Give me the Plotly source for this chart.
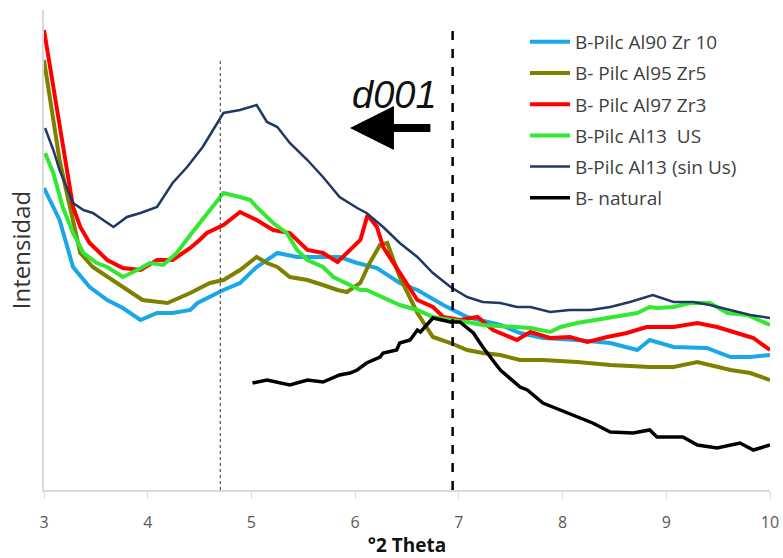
import plotly.graph_objects as go

# ---- data (2-theta, relative intensity) ----
x_al90 = [3.00, 3.15, 3.28, 3.44, 3.61, 3.76, 3.93, 4.09, 4.24, 4.41, 4.48, 4.73, 4.89, 5.05, 5.25, 5.44,
          5.69, 5.85, 6.02, 6.21, 6.43, 6.60, 6.85, 7.08, 7.40, 7.59, 7.81, 8.14, 8.46, 8.72, 8.84, 9.07,
          9.39, 9.62, 9.81, 10.00]
y_al90 = [302, 270, 223, 203, 190, 182, 170, 177, 177, 180, 187, 200, 207, 223, 237, 233,
          233, 233, 227, 222, 207, 200, 185, 173, 165, 157, 152, 150, 147, 140, 150, 143,
          142, 133, 133, 135]

x_al95 = [3.00, 3.15, 3.22, 3.35, 3.47, 3.70, 3.95, 4.19, 4.41, 4.60, 4.73, 4.89, 5.05, 5.15, 5.25, 5.37,
          5.54, 5.69, 5.83, 5.92, 6.05, 6.14, 6.24, 6.31, 6.43, 6.60, 6.75, 6.92, 7.08, 7.23, 7.40, 7.59,
          7.81, 8.14, 8.46, 8.84, 9.07, 9.30, 9.49, 9.62, 9.81, 10.00]
y_al95 = [430, 330, 297, 237, 223, 207, 190, 187, 197, 207, 210, 220, 233, 227, 223, 213,
          210, 205, 200, 198, 207, 227, 245, 247, 213, 177, 153, 147, 140, 137, 135, 130,
          130, 128, 125, 123, 123, 128, 123, 120, 117, 110]

x_al97 = [3.00, 3.09, 3.15, 3.22, 3.28, 3.35, 3.44, 3.61, 3.76, 3.93, 4.09, 4.24, 4.41, 4.50, 4.57, 4.73,
          4.89, 5.05, 5.21, 5.37, 5.54, 5.69, 5.83, 5.95, 6.05, 6.12, 6.21, 6.27, 6.43, 6.60, 6.75, 6.85,
          7.01, 7.18, 7.33, 7.56, 7.69, 7.88, 8.07, 8.24, 8.43, 8.62, 8.81, 8.91, 9.07, 9.30, 9.49, 9.68,
          9.84, 10.00]
y_al97 = [460, 403, 360, 320, 283, 263, 247, 230, 222, 220, 230, 230, 242, 250, 257, 265,
          278, 270, 260, 257, 240, 237, 228, 240, 250, 275, 263, 243, 217, 190, 183, 173,
          170, 173, 160, 150, 158, 152, 153, 148, 153, 157, 163, 163, 163, 167, 163, 157,
          152, 140]

x_al13us = [3.01, 3.09, 3.18, 3.28, 3.38, 3.51, 3.61, 3.76, 3.90, 4.02, 4.15, 4.28, 4.41, 4.50, 4.60, 4.73,
            4.89, 4.99, 5.05, 5.21, 5.34, 5.44, 5.54, 5.69, 5.79, 5.92, 6.05, 6.11, 6.27, 6.43, 6.60, 6.75,
            6.92, 7.08, 7.23, 7.59, 7.69, 7.88, 7.98, 8.14, 8.33, 8.53, 8.72, 8.84, 8.91, 9.07, 9.23, 9.42,
            9.59, 9.78, 10.00]
y_al13us = [337, 317, 283, 257, 237, 227, 223, 213, 220, 227, 225, 237, 255, 267, 280, 297,
            293, 290, 283, 267, 257, 240, 230, 223, 213, 207, 200, 200, 193, 185, 180, 173,
            170, 168, 165, 163, 162, 158, 163, 167, 170, 173, 177, 183, 182, 183, 187, 187,
            177, 175, 165]

x_al13 = [3.01, 3.09, 3.15, 3.22, 3.28, 3.38, 3.47, 3.57, 3.67, 3.80, 3.93, 4.09, 4.24, 4.38, 4.50, 4.53,
          4.63, 4.73, 4.89, 5.05, 5.15, 5.25, 5.37, 5.54, 5.69, 5.85, 6.02, 6.11, 6.27, 6.43, 6.60, 6.75,
          6.92, 7.08, 7.23, 7.40, 7.56, 7.69, 7.88, 8.07, 8.27, 8.46, 8.65, 8.81, 8.87, 9.07, 9.26, 9.42,
          9.62, 9.81, 10.00]
y_al13 = [362, 340, 320, 303, 287, 280, 277, 270, 263, 273, 277, 283, 307, 323, 340, 343,
          360, 377, 380, 385, 368, 363, 347, 330, 313, 293, 282, 277, 263, 247, 233, 217,
          203, 193, 188, 187, 183, 183, 178, 180, 180, 183, 188, 193, 195, 188, 188, 185,
          180, 175, 172]

x_nat = [5.01, 5.15, 5.37, 5.54, 5.69, 5.85, 5.95, 6.02, 6.11, 6.24, 6.27, 6.40, 6.43, 6.53, 6.60, 6.63,
         6.75, 6.92, 7.01, 7.14, 7.23, 7.40, 7.59, 7.66, 7.81, 7.98, 8.14, 8.29, 8.46, 8.68, 8.84, 8.91,
         9.16, 9.30, 9.49, 9.71, 9.84, 10.00]
y_nat = [107, 110, 105, 110, 108, 115, 117, 120, 127, 133, 137, 140, 147, 150, 160, 158,
         172, 168, 168, 157, 143, 120, 103, 100, 87, 80, 73, 67, 58, 57, 60, 53,
         53, 45, 42, 47, 40, 45]

x_ticks = [3, 4, 5, 6, 7, 8, 9, 10]
x_ticklabels = ["3", "4", "5", "6", "7", "8", "9", "10"]

series = [
    ("B-Pilc Al90 Zr 10", x_al90, y_al90, "#19a7e8", 4),
    ("B- Pilc Al95 Zr5", x_al95, y_al95, "#7f7f00", 4),
    ("B- Pilc Al97 Zr3", x_al97, y_al97, "#ff0000", 4),
    ("B-Pilc Al13  US", x_al13us, y_al13us, "#33e833", 4),
    ("B-Pilc Al13 (sin Us)", x_al13, y_al13, "#1f3864", 2.5),
    ("B- natural", x_nat, y_nat, "#000000", 3.5),
]

FONT = "Open Sans, Liberation Sans, Arial"

fig = go.Figure()
for i, (name, xs, ys, col, w) in enumerate(series):
    fig.add_trace(go.Scatter(x=xs, y=ys, mode="lines", name=name, legendgroup=f"g{i}",
                             line=dict(color=col, width=w)))

# reference lines
fig.add_shape(type="line", x0=4.7, x1=4.7, y0=0, y1=432, xref="x", yref="y",
              line=dict(color="#555555", width=1.2, dash="dot"))
fig.add_shape(type="line", x0=6.94, x1=6.94, y0=0, y1=460, xref="x", yref="y",
              line=dict(color="#000000", width=2.5, dash="dash"))

fig.add_annotation(x=6.38, y=395, text="<i>d001</i>", showarrow=False,
                   font=dict(family="Liberation Sans, Arial", size=38, color="#111111"))
fig.add_annotation(x=5.95, y=362, ax=6.74, ay=362, axref="x", ayref="y", xref="x", yref="y",
                   text="", showarrow=True, arrowhead=2, arrowsize=1.1, arrowwidth=8,
                   arrowcolor="#000000")

fig.update_layout(
    width=783, height=558,
    margin=dict(l=44, r=13, t=10, b=68, autoexpand=False),
    paper_bgcolor="white", plot_bgcolor="white",
    showlegend=True,
    legend=dict(x=0.6625, y=0.973, xanchor="left", yanchor="top",
                font=dict(family=FONT, size=19, color="#404040"),
                tracegroupgap=3.5, bgcolor="rgba(0,0,0,0)", itemwidth=40),
    xaxis=dict(range=[3, 10], tickvals=x_ticks, ticktext=x_ticklabels, showgrid=False,
               automargin=False,
               showline=True, linecolor="#d9d9d9", linewidth=1.5, ticks="outside",
               ticklen=7, tickcolor="#d9d9d9", zeroline=False, ticklabelstandoff=10,
               tickfont=dict(family=FONT, size=16, color="#595959"),
               title=dict(text="<b>°2 Theta</b>", standoff=8,
                          font=dict(family=FONT, size=19, color="#111111"))),
    yaxis=dict(range=[0, 480], showticklabels=False, showgrid=False, zeroline=False,
               automargin=False,
               showline=True, linecolor="#d9d9d9", linewidth=1.5, ticks="",
               title=dict(text="Intensidad", standoff=5,
                          font=dict(family=FONT, size=24, color="#333333"))),
)

fig.write_html("out.html")
